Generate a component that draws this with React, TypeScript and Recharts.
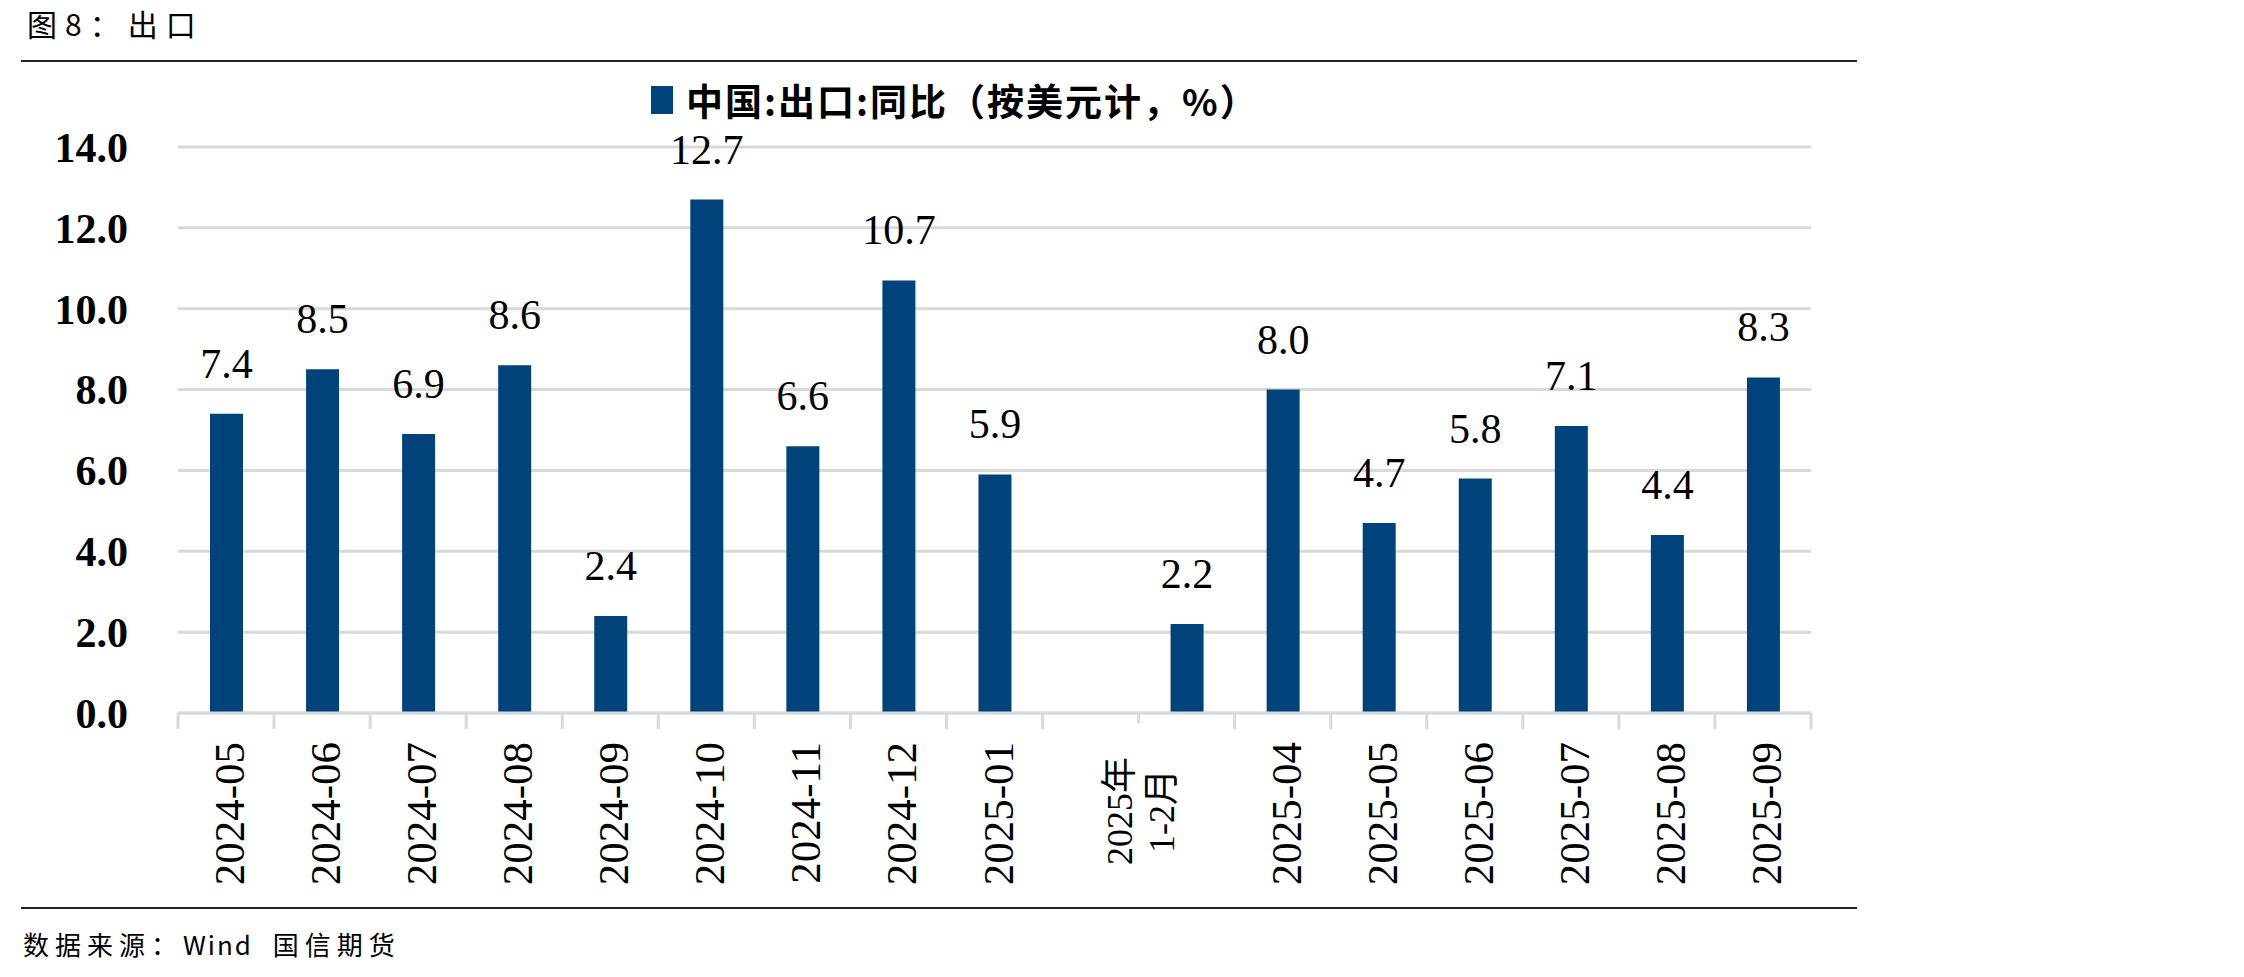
import React from 'react';
import {
  BarChart,
  Bar,
  XAxis,
  YAxis,
  CartesianGrid,
  LabelList,
} from 'recharts';

// 月份（空位对应 2025-02，与 1-2 月合并公布）
const categories = [
  '2024-05', '2024-06', '2024-07', '2024-08', '2024-09', '2024-10',
  '2024-11', '2024-12', '2025-01', '2025-02', '2025-03', '2025-04',
  '2025-05', '2025-06', '2025-07', '2025-08', '2025-09',
];

const xLabels = [
  '2024-05', '2024-06', '2024-07', '2024-08', '2024-09', '2024-10',
  '2024-11', '2024-12', '2025-01', '', '2025年\n1-2月', '2025-04',
  '2025-05', '2025-06', '2025-07', '2025-08', '2025-09',
];

const exportYoY: (number | null)[] = [
  7.4, 8.5, 6.9, 8.6, 2.4, 12.7, 6.6, 10.7, 5.9, null, 2.2, 8.0,
  4.7, 5.8, 7.1, 4.4, 8.3,
];

const yTicks = [0, 2, 4, 6, 8, 10, 12, 14];

const seriesName = '中国:出口:同比（按美元计，%）';

const data = categories.map((c, i) => ({ month: c, value: exportYoY[i] }));

const BAR_COLOR = '#00437a';
const GRID = '#d9d9d9';
const SERIF = '"Liberation Serif", "Times New Roman", serif';
const CJK = '"Noto Sans CJK SC", "Noto Sans", sans-serif';

const CHART_W = 1860;
const CHART_H = 977;
const PLOT_LEFT = 178;
const PLOT_RIGHT = 1811;
const PLOT_TOP = 147;
const PLOT_BOTTOM = 713;
const BAND = (PLOT_RIGHT - PLOT_LEFT) / categories.length;

const XTick = (props: any) => {
  const { x, index } = props;
  const half = BAND / 2;
  const label = xLabels[index] ?? '';
  const lines = label.split('\n');
  const shortLeft = index > 0 && exportYoY[index - 1] == null;
  const last = index === categories.length - 1;
  return (
    <g>
      <line
        x1={x - half}
        x2={x - half}
        y1={PLOT_BOTTOM}
        y2={PLOT_BOTTOM + (shortLeft ? 10 : 16)}
        stroke={GRID}
        strokeWidth={3}
      />
      {last && (
        <line
          x1={x + half}
          x2={x + half}
          y1={PLOT_BOTTOM}
          y2={PLOT_BOTTOM + 16}
          stroke={GRID}
          strokeWidth={3}
        />
      )}
      {lines.length === 1 ? (
        <text
          transform={`translate(${x + 18}, 742) rotate(-90)`}
          textAnchor="end"
          fontFamily={SERIF}
          fontSize={43}
          fill="#000"
        >
          {label}
        </text>
      ) : (
        lines.map((ln: string, k: number) => (
          <text
            key={k}
            transform={`translate(${x - 55 + k * 42}, 811) rotate(-90)`}
            textAnchor="middle"
            fontFamily={`${SERIF}, ${CJK}`}
            fontSize={36}
            fill="#000"
          >
            {ln}
          </text>
        ))
      )}
    </g>
  );
};

const App: React.FC = () => {
  return (
    <div
      style={{
        position: 'absolute',
        left: 0,
        top: 0,
        width: 2244,
        height: 977,
        background: '#fff',
        overflow: 'hidden',
      }}
    >
      <div
        style={{
          position: 'absolute',
          left: 27,
          top: 8,
          fontFamily: CJK,
          fontSize: 30,
          lineHeight: '30px',
          letterSpacing: 8,
          color: '#000',
          whiteSpace: 'nowrap',
        }}
      >
        图8：出口
      </div>
      <div
        style={{
          position: 'absolute',
          left: 21,
          top: 60,
          width: 1836,
          height: 2,
          background: '#222',
        }}
      />

      <div style={{ position: 'absolute', left: 0, top: 0 }}>
        <BarChart
          width={CHART_W}
          height={CHART_H}
          data={data}
          margin={{ top: PLOT_TOP, right: CHART_W - PLOT_RIGHT, bottom: 0, left: 0 }}
        >
          <CartesianGrid vertical={false} stroke={GRID} strokeWidth={3} />
          <XAxis
            dataKey="month"
            height={CHART_H - PLOT_BOTTOM}
            interval={0}
            tickLine={false}
            axisLine={{ stroke: GRID, strokeWidth: 3 }}
            tick={<XTick />}
          />
          <YAxis
            width={PLOT_LEFT}
            domain={[0, 14]}
            ticks={yTicks}
            tickFormatter={(v: number) => v.toFixed(1)}
            axisLine={false}
            tickLine={false}
            tickSize={0}
            tickMargin={50}
            tick={{
              fill: '#000',
              fontFamily: SERIF,
              fontSize: 42,
              fontWeight: 'bold',
            }}
          />
          <Bar
            dataKey="value"
            fill={BAR_COLOR}
            barSize={33}
            isAnimationActive={false}
          >
            <LabelList
              dataKey="value"
              position="top"
              offset={36}
              formatter={(v: any) => (v == null ? '' : Number(v).toFixed(1))}
              fill="#000"
              fontFamily={SERIF}
              fontSize={42}
            />
          </Bar>
        </BarChart>
      </div>

      {/* 图例 */}
      <div
        style={{
          position: 'absolute',
          left: 651,
          top: 86,
          width: 22,
          height: 28,
          background: BAR_COLOR,
        }}
      />
      <div
        style={{
          position: 'absolute',
          left: 686,
          top: 82,
          fontFamily: CJK,
          fontWeight: 'bold',
          fontSize: 37,
          lineHeight: '37px',
          color: '#000',
          whiteSpace: 'nowrap',
          letterSpacing: 2,
        }}
      >
        {seriesName}
      </div>

      <div
        style={{
          position: 'absolute',
          left: 21,
          top: 907,
          width: 1836,
          height: 2,
          background: '#222',
        }}
      />
      <div
        style={{
          position: 'absolute',
          left: 23,
          top: 931,
          fontFamily: CJK,
          fontSize: 26,
          lineHeight: '26px',
          letterSpacing: 6,
          color: '#000',
          whiteSpace: 'pre',
        }}
      >
        数据来源：
        <span style={{ letterSpacing: 2 }}>{'Wind '}</span>
        {' 国信期货'}
      </div>
    </div>
  );
};

export default App;
